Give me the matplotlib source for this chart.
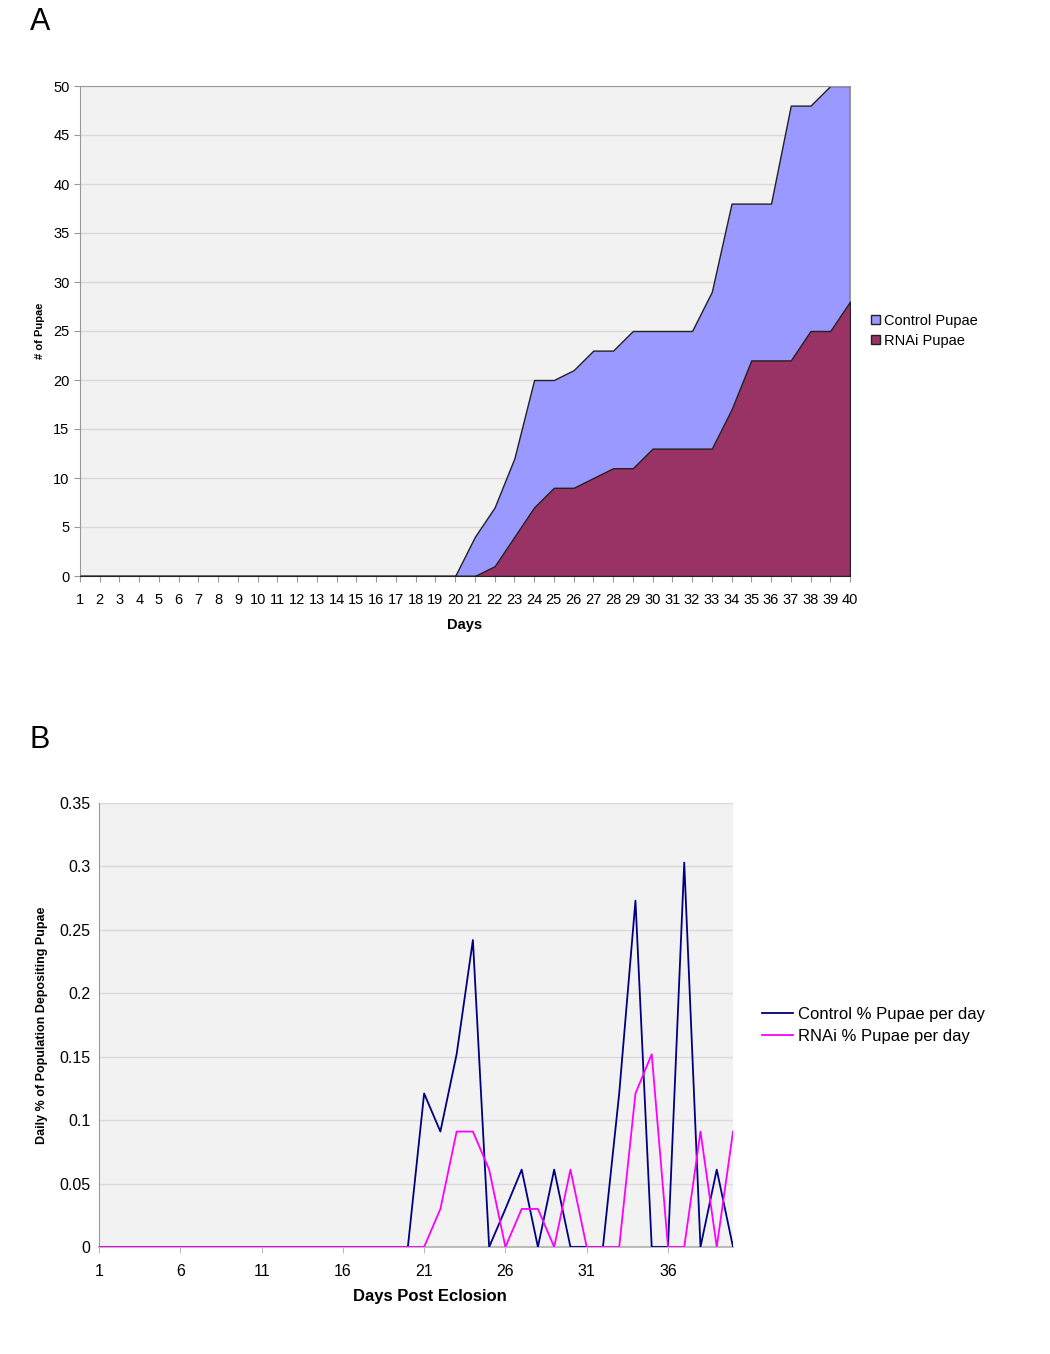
import matplotlib
matplotlib.use("Agg")
import matplotlib.pyplot as plt
from matplotlib.patches import Patch
from matplotlib.lines import Line2D
import numpy as np

plt.rcParams["font.family"] = ["Liberation Sans", "DejaVu Sans"]

# Panel A: cumulative pupae per day
days = list(range(1, 41))
control_pupae = [0] * 20 + [4, 7, 12, 20, 20, 21, 23, 23, 25, 25,
                            25, 25, 29, 38, 38, 38, 48, 48, 50, 50]
rnai_pupae = [0] * 21 + [1, 4, 7, 9, 9, 10, 11, 11, 13, 13,
                         13, 13, 17, 22, 22, 22, 25, 25, 28]

# Panel B: daily fraction of population depositing pupae
control_daily = [0] * 20 + [0.121, 0.091, 0.152, 0.242, 0, 0.030, 0.061, 0, 0.061, 0,
                            0, 0, 0.121, 0.273, 0, 0, 0.303, 0, 0.061, 0]
rnai_daily = [0] * 21 + [0.030, 0.091, 0.091, 0.061, 0, 0.030, 0.030, 0, 0.061,
                         0, 0, 0, 0.121, 0.152, 0, 0, 0.091, 0, 0.091]

bg = "#F2F2F2"
grid_c = "#D9D9D9"

fig = plt.figure(figsize=(10.5, 13.54), dpi=100)

# ---- Panel A ----
ax1 = fig.add_axes([80 / 1050, 1 - 576 / 1354, 770 / 1050, 490 / 1354])
ax1.set_facecolor(bg)
ax1.fill_between(days, control_pupae, color="#9999FF", edgecolor="#222222", linewidth=1, zorder=2)
ax1.fill_between(days, rnai_pupae, color="#993366", edgecolor="#222222", linewidth=1, zorder=3)
ax1.set_xlim(1, 40)
ax1.set_ylim(0, 50)
ax1.set_yticks(range(0, 51, 5))
ax1.set_xticks(days)
ax1.yaxis.grid(True, color=grid_c, linewidth=1)
ax1.set_axisbelow(True)
ax1.tick_params(axis="both", labelsize=10.5, length=4, color="#999999")
ax1.tick_params(axis="x", pad=8)
for s in ["top", "right"]:
    ax1.spines[s].set_color("#999999")
ax1.spines["left"].set_color("#999999")
ax1.spines["bottom"].set_color("#666666")
ax1.set_xlabel("Days", fontsize=10.5, fontweight="bold", labelpad=8)
ax1.set_ylabel("# of Pupae", fontsize=8, fontweight="bold", labelpad=6)
handles1 = [Patch(facecolor="#9999FF", edgecolor="#222222", label="Control Pupae"),
            Patch(facecolor="#993366", edgecolor="#222222", label="RNAi Pupae")]
fig.legend(handles=handles1, loc="upper left", bbox_to_anchor=(865 / 1050, 1 - 308 / 1354),
           frameon=False, fontsize=10.5, handlelength=0.6, handleheight=0.6,
           handletextpad=0.3, labelspacing=0.4, borderaxespad=0)
fig.text(30 / 1050, 1 - 22 / 1354, "A", fontsize=22, va="center", ha="left")

# ---- Panel B ----
ax2 = fig.add_axes([99 / 1050, 1 - 1247 / 1354, 634 / 1050, 444 / 1354])
ax2.set_facecolor(bg)
ax2.plot(days, control_daily, color="#000080", linewidth=1.3, zorder=3)
ax2.plot(days, rnai_daily, color="#FF00FF", linewidth=1.3, zorder=3)
ax2.set_xlim(1, 40)
ax2.set_ylim(0, 0.35)
ax2.set_yticks(np.arange(0, 0.351, 0.05))
ax2.set_yticklabels(["0", "0.05", "0.1", "0.15", "0.2", "0.25", "0.3", "0.35"])
ax2.set_xticks(range(1, 40, 5))
ax2.yaxis.grid(True, color=grid_c, linewidth=1)
ax2.set_axisbelow(True)
ax2.tick_params(axis="both", labelsize=11.5, length=4, color="#BBBBBB")
ax2.tick_params(axis="x", pad=8)
ax2.tick_params(axis="y", length=0, pad=6)
for s in ["top", "right"]:
    ax2.spines[s].set_visible(False)
ax2.spines["left"].set_color("#999999")
ax2.spines["bottom"].set_color("#BBBBBB")
ax2.spines["bottom"].set_linewidth(1.5)
ax2.set_xlabel("Days Post Eclosion", fontsize=12, fontweight="bold", labelpad=9)
ax2.xaxis.set_label_coords(0.522, -0.095)
ax2.set_ylabel("Daily % of Population Depositing Pupae", fontsize=9, fontweight="bold", labelpad=8)
handles2 = [Line2D([], [], color="#000080", linewidth=1.3, label="Control % Pupae per day"),
            Line2D([], [], color="#FF00FF", linewidth=1.3, label="RNAi % Pupae per day")]
fig.legend(handles=handles2, loc="upper left", bbox_to_anchor=(755 / 1050, 1 - 1000 / 1354),
           frameon=False, fontsize=12, handlelength=1.9, handletextpad=0.3,
           labelspacing=0.45, borderaxespad=0)
fig.text(30 / 1050, 1 - 740 / 1354, "B", fontsize=22, va="center", ha="left")

fig.savefig("out.png", dpi=100)
